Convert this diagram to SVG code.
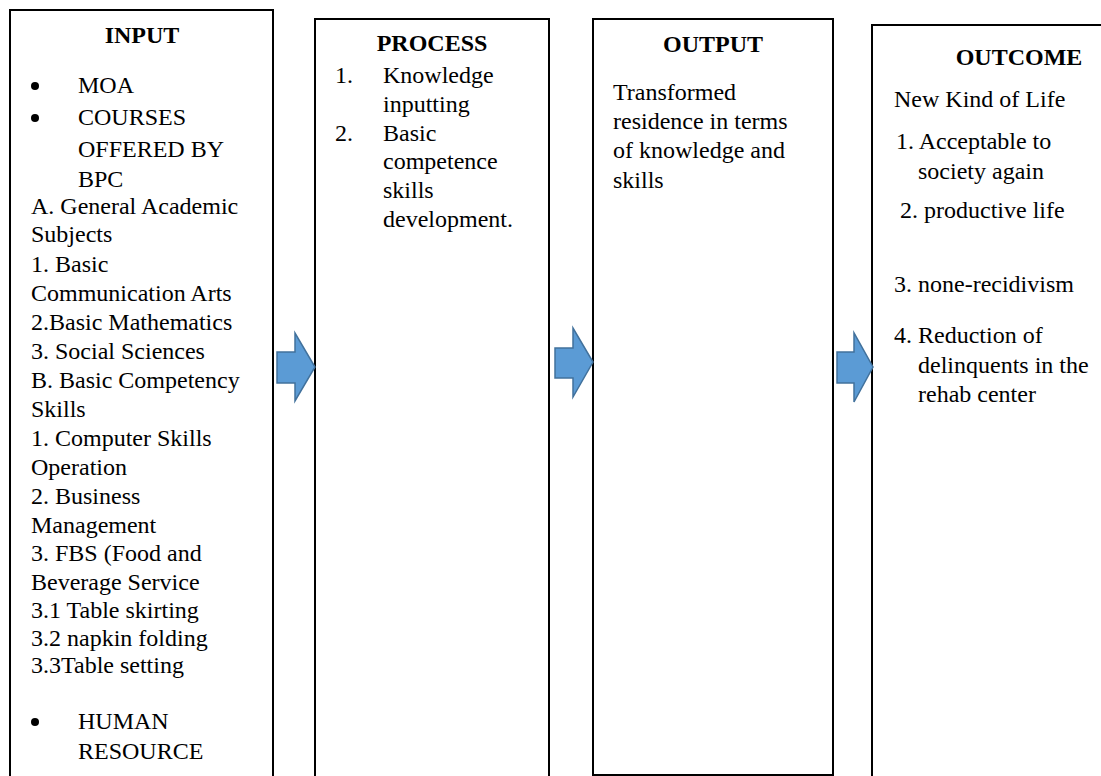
<svg xmlns="http://www.w3.org/2000/svg" width="1101" height="776" viewBox="0 0 1101 776">
<style>
.box{fill:#fff;stroke:#000;stroke-width:2}
.t{font-family:"Liberation Serif","Times New Roman",serif;font-size:24px;fill:#000}
.h{font-weight:bold;text-anchor:middle}
.arrow{fill:#5B9BD5;stroke:#41719C;stroke-width:1.5;stroke-linejoin:miter}
.dot{fill:#000}
</style>
<rect x="0" y="0" width="1101" height="776" fill="#fff"/>
<g id="input">
<rect class="box" x="10" y="10" width="263" height="790"/>
<text class="t h" x="142" y="43">INPUT</text>
<circle class="dot" cx="35" cy="86" r="4"/>
<text class="t" x="78" y="93">MOA</text>
<circle class="dot" cx="35" cy="118" r="4"/>
<text class="t" x="78" y="125">COURSES</text>
<text class="t" x="78" y="157">OFFERED BY</text>
<text class="t" x="78" y="187">BPC</text>
<text class="t" x="31" y="214">A. General Academic</text>
<text class="t" x="31" y="242">Subjects</text>
<text class="t" x="31" y="272">1. Basic</text>
<text class="t" x="31" y="301">Communication Arts</text>
<text class="t" x="31" y="330">2.Basic Mathematics</text>
<text class="t" x="31" y="359">3. Social Sciences</text>
<text class="t" x="31" y="388">B. Basic Competency</text>
<text class="t" x="31" y="417">Skills</text>
<text class="t" x="31" y="446">1. Computer Skills</text>
<text class="t" x="31" y="475">Operation</text>
<text class="t" x="31" y="504">2. Business</text>
<text class="t" x="31" y="533">Management</text>
<text class="t" x="31" y="561">3. FBS (Food and</text>
<text class="t" x="31" y="590">Beverage Service</text>
<text class="t" x="31" y="618">3.1 Table skirting</text>
<text class="t" x="31" y="646">3.2 napkin folding</text>
<text class="t" x="31" y="673">3.3Table setting</text>
<circle class="dot" cx="35" cy="722" r="4"/>
<text class="t" x="78" y="729">HUMAN</text>
<text class="t" x="78" y="759">RESOURCE</text>
</g>
<g id="process">
<rect class="box" x="315" y="19" width="234" height="790"/>
<text class="t h" x="432" y="51">PROCESS</text>
<text class="t" x="335" y="83">1.</text>
<text class="t" x="383" y="83">Knowledge</text>
<text class="t" x="383" y="112">inputting</text>
<text class="t" x="335" y="141">2.</text>
<text class="t" x="383" y="141">Basic</text>
<text class="t" x="383" y="169">competence</text>
<text class="t" x="383" y="198">skills</text>
<text class="t" x="383" y="227">development.</text>
</g>
<g id="output">
<rect class="box" x="593" y="19" width="240" height="756"/>
<text class="t h" x="713" y="52">OUTPUT</text>
<text class="t" x="613" y="100">Transformed</text>
<text class="t" x="613" y="129">residence in terms</text>
<text class="t" x="613" y="158">of knowledge and</text>
<text class="t" x="613" y="188">skills</text>
</g>
<g id="outcome">
<rect class="box" x="872" y="25" width="260" height="790"/>
<text class="t h" x="1019" y="65">OUTCOME</text>
<text class="t" x="894" y="107">New Kind of Life</text>
<text class="t" x="896" y="149">1. Acceptable to</text>
<text class="t" x="918" y="179">society again</text>
<text class="t" x="900" y="218">2. productive life</text>
<text class="t" x="894" y="292">3. none-recidivism</text>
<text class="t" x="894" y="343">4. Reduction of</text>
<text class="t" x="918" y="373">delinquents in the</text>
<text class="t" x="918" y="402">rehab center</text>
</g>
<g id="connectors">
<polygon class="arrow" points="277,352 295,352 295,333 315,367 295,401 295,383 277,383"/>
<polygon class="arrow" points="555,348 573,348 573,328 593,362 573,397 573,378 555,378"/>
<polygon class="arrow" points="837,352 854,352 854,333 873,367 854,402 854,383 837,383"/>
</g>
</svg>
